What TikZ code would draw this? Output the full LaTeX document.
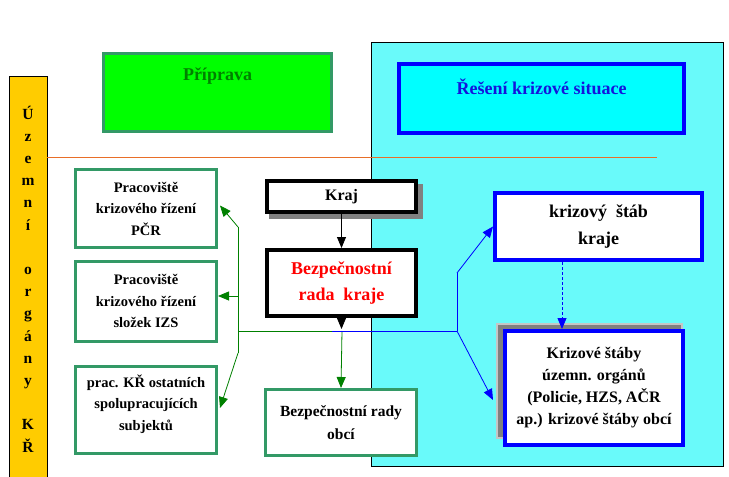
\documentclass[tikz,border=0pt]{standalone}
\usepackage{fontspec}
\setmainfont{Liberation Serif}
\usetikzlibrary{arrows.meta,calc}
\definecolor{sea}{HTML}{339966}
\definecolor{hatch}{RGB}{105,250,250}
\definecolor{orng}{RGB}{232,110,40}
\definecolor{gold}{HTML}{FFCC00}
\definecolor{dgreen}{HTML}{008000}
\definecolor{txtblue}{RGB}{20,20,220}
\definecolor{cyanfill}{RGB}{0,255,255}
\definecolor{limefill}{RGB}{0,255,0}
\definecolor{pureblue}{RGB}{0,0,255}
\definecolor{purered}{RGB}{255,0,0}
\tikzset{
  boxbase/.style={rectangle, inner sep=0pt, align=center, fill=white, font=\bfseries},
  greenbox/.style={boxbase, draw=sea, line width=3pt, minimum width=141pt},
  blackbox/.style={boxbase, draw=black, line width=4pt},
  bluebox/.style={boxbase, draw=pureblue, line width=4pt},
  gtext/.style={align=center, inner sep=0pt, font=\fontsize{14.5}{21.5}\selectfont\bfseries},
  tip/.style={-{Triangle[length=11pt,width=9pt]}},
  conn/.style={line width=0.8pt},
}
\begin{document}
\begin{tikzpicture}[x=1pt,y=-1pt]
\useasboundingbox (0,0) rectangle (729,477);
\fill[white] (0,0) rectangle (729,477);
% hatched region
\draw[fill=hatch, line width=0.8pt] (371,42) rectangle (723,466);
% yellow bar
\draw[fill=gold, line width=0.8pt] (9,76) rectangle (47,480);
\node[align=center, inner sep=0pt, font=\fontsize{15.5}{22.2}\selectfont\bfseries] (bar) at (28,279)
 {Ú\\z\\e\\m\\n\\í\\\mbox{}\\o\\r\\g\\á\\n\\y\\\mbox{}\\K\\Ř};
% orange line
\draw[orng, line width=1pt] (47,157) -- (657,157);
% top boxes
\node[boxbase, fill=limefill, draw=sea, line width=3.5pt, minimum width=228pt, minimum height=78pt] (prip) at (217.5,92.5) {};
\node[font=\fontsize{18}{22}\selectfont\bfseries, text=dgreen] (priptxt) at (217.5,76) {Příprava};
\node[bluebox, fill=cyanfill, minimum width=285pt, minimum height=69pt] (res) at (541.5,98.5) {};
\node[font=\fontsize{18}{22}\selectfont\bfseries, text=txtblue] (restxt) at (541.5,87) {Řešení krizové situace};
% left green boxes
\node[greenbox, minimum height=78pt, gtext] (b1) at (146,208.5) {Pracoviště\\krizového řízení\\PČR};
\node[greenbox, minimum height=80pt, gtext] (b2) at (146,301) {Pracoviště\\krizového řízení\\složek IZS};
\node[greenbox, minimum height=87pt] (b3) at (146,410) {};
\node[gtext] (b3txt) at (146,404) {prac. KŘ ostatních\\spolupracujících\\subjektů};
% middle column
\fill[gray] (269,184) rectangle (423,219);
\node[blackbox, minimum width=149pt, minimum height=31pt, font=\fontsize{16}{20}\selectfont\bfseries] (kraj) at (341.5,196.5) {Kraj};
\node[blackbox, minimum width=149pt, minimum height=66pt, text=purered, font=\fontsize{18}{26}\selectfont\bfseries] (bezp) at (341.5,283) {Bezpečnostní\\rada\ \ kraje};
\node[greenbox, minimum width=151pt, minimum height=66pt, font=\fontsize{15.5}{23}\selectfont\bfseries] (obci) at (341,422.5) {Bezpečnostní rady\\obcí};
% right column
\node[bluebox, minimum width=207pt, minimum height=67pt, font=\fontsize{18}{27}\selectfont\bfseries] (ks) at (598.5,226.5) {krizový\ \ štáb\\kraje};
\draw[fill=gray, draw=gray!45, line width=2pt] (497,324) rectangle (682,438);
\node[bluebox, minimum width=178pt, minimum height=114pt, font=\fontsize{16}{22}\selectfont\bfseries] (kst) at (594,388) {Krizové štáby\\územn. orgánů\\(Policie, HZS, AČR\\ap.) krizové štáby obcí};
% coordinates
\coordinate (jc) at (342,331);
\coordinate (jm) at (332,331);
\coordinate (gt) at (238,227);
\coordinate (gm) at (238,296);
\coordinate (gb) at (238,353);
\coordinate (gh) at (238,331);
\coordinate (bt) at (457,273);
\coordinate (bb) at (457,331);
\coordinate (dx) at (562,0);
% black arrows
\draw[conn, tip] (kraj.south) -- (bezp.north);
\draw[conn, tip] (bezp.south) -- ($(bezp.south)+(0,11)$);
% green connectors
\draw[conn, dgreen, tip] (jc) -- (obci.north);
\draw[conn, dgreen] (gh) -- (jm);
\draw[conn, pureblue] (jm) -- (bb);
\draw[conn, dgreen] (gt) -- (gb);
\draw[conn, dgreen, tip] (gt) -- ($(b1.east)+(2,-3)$);
\draw[conn, dgreen, tip] (gm) -- (b2.east |- gm);
\draw[conn, dgreen, tip] (gb) -- ($(b3.east)+(2,-2)$);
% blue connectors
\draw[conn, pureblue] (bt) -- (bb);
\draw[conn, pureblue, tip] (bt) -- (ks.west);
\draw[conn, pureblue, tip] (bb) -- ($(kst.west)+(-10,12)$);
\draw[conn, pureblue, dash pattern=on 3pt off 2pt, tip] (ks.south -| dx) -- (kst.north -| dx);
\end{tikzpicture}
\end{document}
